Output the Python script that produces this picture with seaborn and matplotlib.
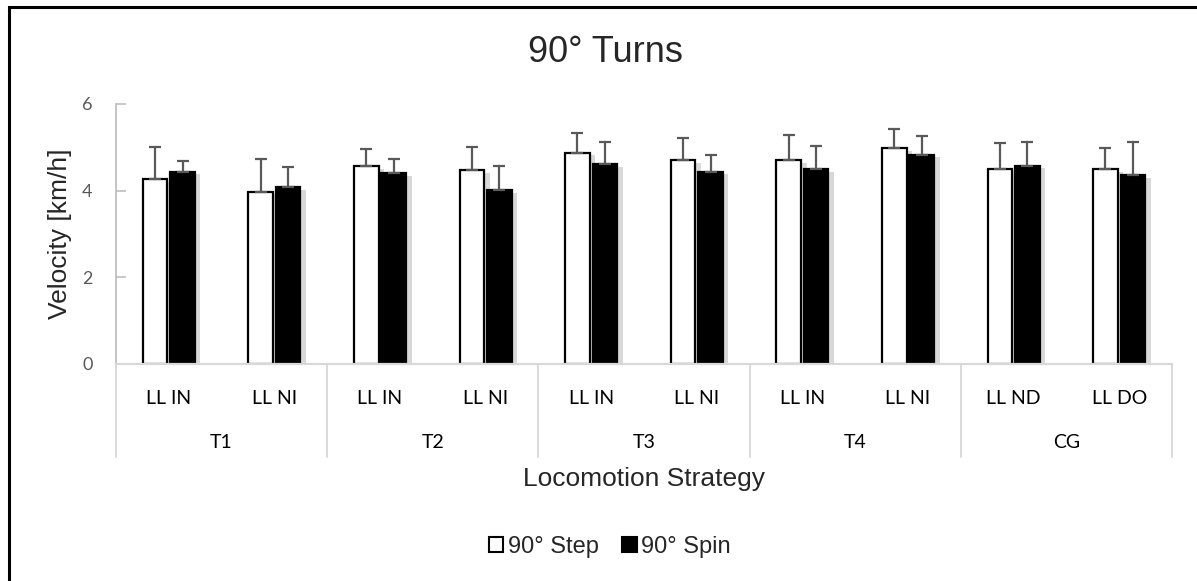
import numpy as np
import pandas as pd
import matplotlib
matplotlib.use("Agg")
import matplotlib.pyplot as plt
import matplotlib.patheffects as pe
from matplotlib.patches import Patch, Rectangle
import seaborn as sns

# ---- data ----
groups = ["T1", "T1", "T2", "T2", "T3", "T3", "T4", "T4", "CG", "CG"]
categories = ["LL IN", "LL NI", "LL IN", "LL NI", "LL IN", "LL NI", "LL IN", "LL NI", "LL ND", "LL DO"]
group_names = ["T1", "T2", "T3", "T4", "CG"]
series = ["90° Step", "90° Spin"]
step_mean = [4.27, 3.98, 4.57, 4.48, 4.88, 4.71, 4.71, 4.99, 4.51, 4.50]
step_err = [0.73, 0.76, 0.38, 0.53, 0.45, 0.51, 0.57, 0.44, 0.59, 0.48]
spin_mean = [4.44, 4.09, 4.41, 4.02, 4.61, 4.44, 4.49, 4.83, 4.58, 4.35]
spin_err = [0.24, 0.46, 0.31, 0.56, 0.52, 0.38, 0.55, 0.43, 0.54, 0.77]
y_ticks = [0, 2, 4, 6]

keys = [f"{g}|{c}" for g, c in zip(groups, categories)]
df = pd.DataFrame({
    "key": keys * 2,
    "series": [series[0]] * len(keys) + [series[1]] * len(keys),
    "value": step_mean + spin_mean,
    "err": step_err + spin_err,
})

sns.set_style("white")
plt.rcParams["font.family"] = ["Liberation Sans", "DejaVu Sans"]

W, H = 1197, 581
fig = plt.figure(figsize=(W / 100, H / 100), dpi=100)
ax = fig.add_axes([116 / W, (H - 364) / H, (1172 - 116) / W, 260 / H])

sns.barplot(data=df, x="key", y="value", hue="series", order=keys, hue_order=series,
            palette=["white", "black"], edgecolor="black", linewidth=1.6,
            width=0.52, gap=0.1, errorbar=None, legend=False, ax=ax)

bars = [p for p in ax.patches if isinstance(p, Rectangle)][:2 * len(keys)]
for p in bars:
    p.set_path_effects([pe.SimplePatchShadow(offset=(4, -2), shadow_rgbFace="#7f7f7f", alpha=0.3),
                        pe.Normal()])

# error bars (plus direction only)
for p, e in zip(bars, step_err + spin_err):
    xc = p.get_x() + p.get_width() / 2
    yv = p.get_height()
    ax.errorbar([xc], [yv], yerr=[[0], [e]], fmt="none", ecolor="#595959",
                elinewidth=1.6, capsize=4.2, capthick=1.6, zorder=1)

ax.set_xlim(-0.5, len(keys) - 0.5)
ax.set_ylim(0, 6)
ax.set_yticks(y_ticks)
ax.set_yticklabels([str(t) for t in y_ticks], fontsize=13, color="#595959", family="Lato")
ax.tick_params(axis="y", direction="in", length=7, width=1.2, color="#bfbfbf", pad=17, left=True)
ax.set_xticks(range(len(keys)))
ax.set_xticklabels(categories, fontsize=14, family="Lato", color="black")
ax.tick_params(axis="x", length=0, pad=19)

for s in ["top", "right"]:
    ax.spines[s].set_visible(False)
ax.spines["left"].set_color("#bfbfbf")
ax.spines["left"].set_linewidth(1.3)
ax.spines["bottom"].set_color("#d9d9d9")
ax.spines["bottom"].set_linewidth(1.6)

ax.set_xlabel("")
ax.set_ylabel("Velocity [km/h]", fontsize=19)
ax.yaxis.set_label_coords(-0.0417, 0.5)

# group separators and labels
trans = ax.get_xaxis_transform()
bounds = np.arange(0, len(keys) + 1, 2) - 0.5
for b in bounds:
    ax.plot([b, b], [0, -0.358], transform=trans, color="#d9d9d9", lw=1.4, clip_on=False)
for i, g in enumerate(group_names):
    ax.text(2 * i + 0.5, -0.30, g, transform=trans, ha="center", va="center",
            fontsize=14, family="Lato", color="black")

ax.text(0.5, -0.442, "Locomotion Strategy", transform=ax.transAxes, ha="center",
        va="center", fontsize=19)

fig.text(605 / W, 1 - 52 / H, "90° Turns", ha="center", va="center", fontsize=26)

handles = [Patch(facecolor="white", edgecolor="black", linewidth=1.5),
           Patch(facecolor="black", edgecolor="black", linewidth=1.5)]
fig.legend(handles, series, loc="center", bbox_to_anchor=(610 / W, 1 - 547 / H),
           ncol=2, frameon=False, fontsize=17, handlelength=0.6, handleheight=0.6,
           handletextpad=0.2, columnspacing=1.0, borderaxespad=0)

# outer chart border
fig.patches.append(Rectangle((9 / W, -0.05), 1.2, 1 - 7 / H + 0.05, transform=fig.transFigure,
                             fill=False, edgecolor="black", linewidth=2.2))

fig.savefig("out.png", dpi=100, facecolor="white")
